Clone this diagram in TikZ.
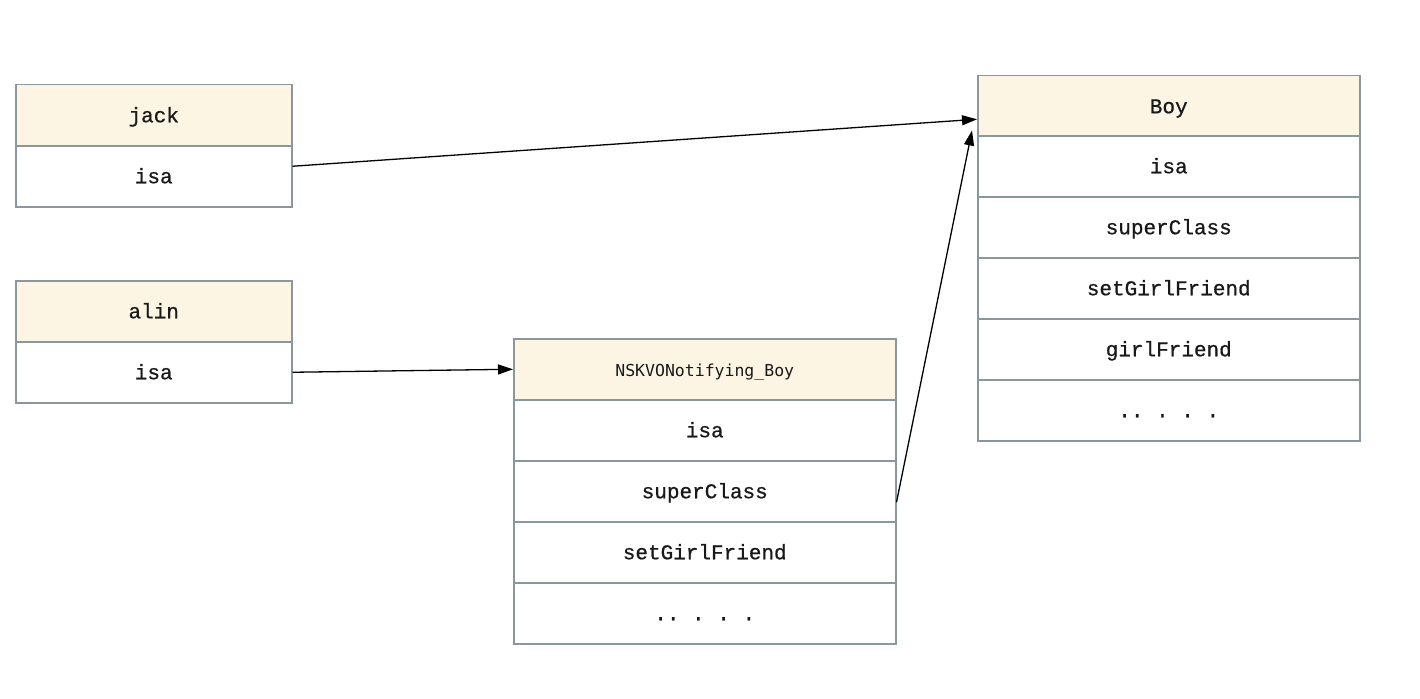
\documentclass[tikz,border=0pt]{standalone}
\usepackage{fontspec}
\newfontfamily\cellfont{Liberation Mono}[FakeBold=0.7]
\newfontfamily\menlofont{DejaVu Sans Mono}
\usetikzlibrary{arrows.meta}
\definecolor{boxline}{HTML}{8A989C}
\definecolor{headfill}{HTML}{FCF5E4}
\tikzset{
  cell/.style={draw=boxline, line width=1.5pt, fill=white, inner sep=0pt,
    minimum height=61pt, anchor=north west, text=black!90,
    text height=16pt, text depth=2pt,
    font=\fontsize{21}{24}\selectfont\cellfont},
  head/.style={cell, fill=headfill},
  narrow/.style={minimum width=276pt},
  wide/.style={minimum width=382pt},
  link/.style={draw=black, line width=1.3pt, -{Triangle[length=15pt,width=10pt]}}
}
\begin{document}
\begin{tikzpicture}[x=1pt,y=-1pt]
\useasboundingbox[fill=white] (0,0) rectangle (1420,698);

% object jack
\node[head,narrow] (jackhead) at (15,84) {jack};
\node[cell,narrow] (jackisa) at (15,145) {isa};

% object alin
\node[head,narrow] (alinhead) at (15,280) {alin};
\node[cell,narrow] (alinisa) at (15,341) {isa};

% dynamically created subclass
\node[head,wide,font=\fontsize{16.5}{20}\selectfont\menlofont] (kvohead) at (513,338) {NSKVONotifying\_Boy};
\node[cell,wide] (kvoisa) at (513,399) {isa};
\node[cell,wide] (kvosuper) at (513,460) {superClass};
\node[cell,wide] (kvoset) at (513,521) {setGirlFriend};
\node[cell,wide] (kvomore) at (513,582) {..\ .\ .\ .};

% original class
\node[head,wide] (boyhead) at (977,75) {Boy};
\node[cell,wide] (boyisa) at (977,135) {isa};
\node[cell,wide] (boysuper) at (977,196) {superClass};
\node[cell,wide] (boyset) at (977,257) {setGirlFriend};
\node[cell,wide] (boygirl) at (977,318) {girlFriend};
\node[cell,wide] (boymore) at (977,379) {..\ .\ .\ .};

% isa / superclass pointers
\draw[link] ([yshift=10pt]jackisa.east) -- ([yshift=-13pt]boyhead.west);
\draw[link] (alinisa.east) -- (kvohead.west);
\draw[link] ([yshift=-11pt]kvosuper.east) -- ([shift={(-5pt,7pt)}]boyhead.south west);
\end{tikzpicture}
\end{document}
